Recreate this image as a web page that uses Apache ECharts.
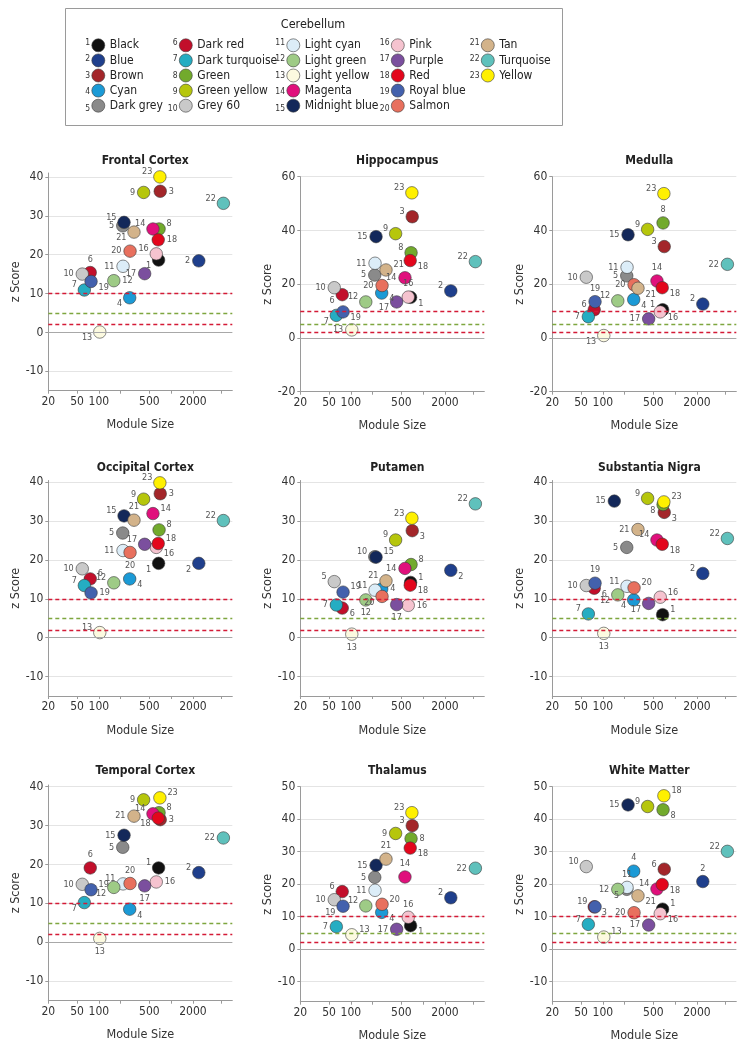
<!DOCTYPE html>
<html><head><meta charset="utf-8">
<script src="https://cdn.jsdelivr.net/npm/echarts@6/dist/echarts.min.js"></script>
<style>html,body{margin:0;padding:0;background:#fff}#c{width:756px;height:1050px}</style>
</head><body><div id="c"></div><script>
// ---------- data ----------
const modules = ['Black','Blue','Brown','Cyan','Dark grey','Dark red','Dark turquoise','Green','Green yellow','Grey 60','Light cyan','Light green','Light yellow','Magenta','Midnight blue','Pink','Purple','Red','Royal blue','Salmon','Tan','Turquoise','Yellow'];
const moduleColors = ['#111111','#1f3f8c','#a3262a','#1b9ad6','#8a8a8a','#c20f2b','#25adc2','#72aa2c','#b6c60c','#c9c9c9','#dcedf8','#9ecb86','#fcfae0','#e0107c','#13285a','#f5c3cf','#7b4f9e','#e3061c','#4361ad','#e8705e','#d3b38a','#5fc1bc','#fff000'];
const moduleSize   = [670,2410,706,267,214,76,63,680,416,59,216,161,103,560,223,622,430,662,78,270,306,5270,698];
const moduleSizeSN = [670,2410,706,267,214,76,63,680,416,59,216,161,103,560,144,622,430,662,78,270,306,5270,698];
const regions = ['Frontal Cortex','Hippocampus','Medulla','Occipital Cortex','Putamen','Substantia Nigra','Temporal Cortex','Thalamus','White Matter'];
const zFrontal   = [18.6,18.4,36.3,8.9,27.4,15.4,10.9,26.6,36.0,15.0,17.0,13.3,0.1,26.6,28.3,20.2,15.1,23.8,13.1,20.9,25.8,33.2,40.0];
const zHippo     = [15.1,17.5,45.1,16.7,23.4,16.1,8.4,31.7,38.8,18.7,27.8,13.4,3.0,22.4,37.7,15.2,13.4,28.8,9.7,19.5,25.3,28.4,54.0];
const zMedulla   = [10.5,12.6,34.0,14.3,23.1,10.5,7.9,42.8,40.4,22.6,26.3,13.8,0.9,21.2,38.4,9.7,7.1,18.7,13.5,19.8,18.5,27.4,53.7];
const zOccipital = [19.1,19.1,37.0,15.1,26.9,15.1,13.4,27.7,35.6,17.7,22.4,14.1,1.3,31.9,31.3,23.2,24.0,24.2,11.5,21.9,30.2,30.1,39.8];
const zPutamen   = [14.2,17.3,27.5,12.5,20.8,7.6,8.4,18.8,25.1,14.4,12.2,9.7,0.9,17.8,20.7,8.3,8.5,13.5,11.7,10.6,14.6,34.4,30.7];
const zNigra     = [5.9,16.5,32.2,9.7,23.2,12.7,6.1,34.2,35.8,13.4,13.2,11.0,1.1,25.1,35.1,10.4,8.8,24.0,14.0,12.8,27.8,25.5,34.9];
const zTemporal  = [19.1,17.9,31.5,8.5,24.4,19.1,10.2,33.3,36.6,14.9,15.0,14.1,1.0,33.0,27.5,15.5,14.5,31.9,13.5,15.1,32.4,26.8,37.1];
const zThalamus  = [7.2,15.8,38.0,11.3,22.1,17.7,6.9,34.0,35.6,15.2,18.1,13.3,4.4,22.2,25.8,9.8,6.1,31.1,13.2,13.8,27.7,24.9,42.0];
const zWhite     = [12.3,20.8,24.6,24.0,18.4,13.0,7.6,42.9,43.9,25.4,19.0,18.4,3.7,18.5,44.4,10.9,7.4,19.9,13.0,11.2,16.4,30.1,47.2];
const xTickValues  = [20,50,100,200,500,1000,2000,5000];
const xLabelValues = [20,50,100,500,2000];
const yTicks40 = [-10,0,10,20,30,40];
const yTicks60 = [-20,0,20,40,60];
const yTicks50 = [-10,0,10,20,30,40,50];
const redThresholds = [10,2];
const greenThresholds = [5];
const baseline = [0];
// label texts that differ from the module number in the original figure
const labelTextOverrides = [{},{},{},{},{5:'10',10:'5'},{},{},{},{3:'6',6:'3',23:'18'}];

// ---------- styling / layout ----------
const FONT = "'Liberation Sans Narrow','DejaVu Sans Condensed','DejaVu Sans',sans-serif";
const labelPlacement = [
 'bl l r bl l t tl tr l l l r bl tl tl tl l r br l bl tl tl',
 'br tl tl br l bl bl tl tl l l tl l l l t bl br br l tr tl tl',
 'tl tl tl br l tl l t tl l l tl bl t l br l br t l br l tl',
 'bl bl r br l tr tl tr tl l l tl tl tr tl br tl tr r b t tl tl',
 'tr br br r tl br l tr tl tl tl b b l tr r b br tr bl tl tl tl',
 'tr tl br bl l br tl bl tl l tl bl b tl l tr bl br t tr l tl tr',
 'tl tl r br l t bl tr l l tl bl b tl l r b bl tr t l l tr',
 'br tl tl br l tl l r l l l tl tr t l t l br bl tr t l tl',
 'tr t tl t bl br tl br tl tl t l tr tl l br l br tl l br tl tr'
].map(s => s.split(' '));
const posMap = {
  l:{position:'left',offset:[0,0]}, tl:{position:'left',offset:[1,-5]}, bl:{position:'left',offset:[1,6]},
  r:{position:'right',offset:[0,0]}, tr:{position:'right',offset:[-1,-5]}, br:{position:'right',offset:[-1,6]},
  t:{position:'top',offset:[0,0]}, b:{position:'bottom',offset:[0,0]}
};
const panelLayout = [
  {top:173,h:217.7,min:-15,max:41,ticks:yTicks40},
  {top:176.7,h:215,min:-20,max:60,ticks:yTicks60},
  {top:176.7,h:215,min:-20,max:60,ticks:yTicks60},
  {top:480.5,h:215.5,min:-15,max:40.4,ticks:yTicks40},
  {top:480.5,h:215.5,min:-15,max:40.4,ticks:yTicks40},
  {top:480.5,h:215.5,min:-15,max:40.4,ticks:yTicks40},
  {top:785,h:215.7,min:-15,max:40.4,ticks:yTicks40},
  {top:786.7,h:215,min:-16.2,max:50,ticks:yTicks50},
  {top:786.7,h:215,min:-16.2,max:50,ticks:yTicks50}
];
const colLeft = [48.3,300.3,552.3];
const gridW = 184;
const titleY = [150,457,760];

const zData = [zFrontal,zHippo,zMedulla,zOccipital,zPutamen,zNigra,zTemporal,zThalamus,zWhite];
const sizeData = [moduleSize,moduleSize,moduleSize,moduleSize,moduleSize,moduleSizeSN,moduleSize,moduleSize,moduleSize];

const grid = [], xAxis = [], yAxis = [], title = [], series = [];
regions.forEach((reg, pi) => {
  const L = panelLayout[pi], col = pi % 3, row = Math.floor(pi / 3);
  grid.push({left:colLeft[col], top:L.top, width:gridW, height:L.h, containLabel:false});
  title.push({text:reg, left:colLeft[col] + gridW/2, top:titleY[row], textAlign:'center',
    textStyle:{fontFamily:FONT, fontSize:12, fontWeight:'bold', color:'#222'}});
  xAxis.push({type:'log', logBase:10, gridIndex:pi, min:20, max:7000,
    name:'Module Size', nameLocation:'middle', nameGap:28,
    nameTextStyle:{fontFamily:FONT, fontSize:12.5, color:'#333'},
    axisLine:{onZero:false, lineStyle:{color:'#9a9a9a', width:1}},
    axisTick:{show:true, length:3, customValues:xTickValues, lineStyle:{color:'#9a9a9a'}},
    axisLabel:{customValues:xLabelValues, formatter:v => String(Math.round(v)), margin:5, fontFamily:FONT, fontSize:12, color:'#333'},
    splitLine:{show:false}, minorTick:{show:false}});
  yAxis.push({type:'value', gridIndex:pi, min:L.min, max:L.max,
    name:'z Score', nameLocation:'middle', nameGap:26,
    nameTextStyle:{fontFamily:FONT, fontSize:12.5, color:'#333'},
    axisLine:{show:true, onZero:false, lineStyle:{color:'#9a9a9a', width:1}},
    axisTick:{show:true, length:3, customValues:L.ticks, lineStyle:{color:'#9a9a9a'}},
    axisLabel:{customValues:L.ticks, margin:5, fontFamily:FONT, fontSize:12, color:'#333'},
    splitLine:{show:true, lineStyle:{color:'#e4e4e4', width:1}}});
  const ml = [];
  baseline.forEach(v => ml.push({yAxis:v, lineStyle:{color:'#a8a8a8', type:'solid', width:1}}));
  greenThresholds.forEach(v => ml.push({yAxis:v, lineStyle:{color:'#7ea63f', type:[4,3], width:1.4}}));
  redThresholds.forEach(v => ml.push({yAxis:v, lineStyle:{color:'#d41a36', type:[4,3], width:1.4}}));
  series.push({type:'line', xAxisIndex:pi, yAxisIndex:pi, data:[], z:1, silent:true,
    markLine:{silent:true, symbol:'none', animation:false, label:{show:false}, data:ml}});
  modules.forEach((name, mi) => {
    const txt = labelTextOverrides[pi][mi+1] || String(mi+1);
    const pos = posMap[labelPlacement[pi][mi]] || posMap.l;
    series.push({type:'scatter', name:name, xAxisIndex:pi, yAxisIndex:pi, z:3,
      symbol:'circle', symbolSize:12.5,
      data:[[sizeData[pi][mi], zData[pi][mi]]],
      itemStyle:{color:moduleColors[mi], borderColor:'#3a3a3a', borderWidth:0.6, opacity:1},
      label:{show:true, formatter:txt, distance:2, fontFamily:FONT, fontSize:9, color:'#555',
        position:pos.position, offset:pos.offset},
      emphasis:{disabled:true}});
  });
});

// legend (Cerebellum modules), 5 columns
const legendCols = [[0,1,2,3,4],[5,6,7,8,9],[10,11,12,13,14],[15,16,17,18,19],[20,21,22]];
const legendIconLeft = [91.5,179,286.5,391,481];
const legendTop = 38.5, legendPitch = 16.5;
const legend = legendCols.map((c, ci) => ({
  data: c.map(i => modules[i]), orient:'vertical', left:legendIconLeft[ci], top:legendTop,
  padding:0, itemWidth:13, itemHeight:13, itemGap:1.5, icon:'circle', selectedMode:false,
  itemStyle:{borderColor:'#3a3a3a', borderWidth:0.6},
  textStyle:{fontFamily:FONT, fontSize:12, color:'#222', lineHeight:13}
}));
const graphic = [
  {type:'rect', shape:{x:65.5, y:8.5, width:497, height:117}, style:{fill:'none', stroke:'#9a9a9a', lineWidth:1}, silent:true},
  {type:'text', x:313, y:25, style:{text:'Cerebellum', fontFamily:FONT, fontSize:12.5, fill:'#222', align:'center', verticalAlign:'middle'}, silent:true}
];
legendCols.forEach((c, ci) => c.forEach((mi, ri) => {
  graphic.push({type:'text', x:legendIconLeft[ci] - 1.5, y:legendTop + ri*legendPitch - 0.5,
    style:{text:String(mi+1), fontFamily:FONT, fontSize:8.5, fill:'#333', align:'right', verticalAlign:'top'}, silent:true});
}));

const chart = echarts.init(document.getElementById('c'), null, {renderer:'canvas'});
chart.setOption({animation:false, backgroundColor:'#fff', title, grid, xAxis, yAxis, legend, graphic, series});
</script></body></html>
